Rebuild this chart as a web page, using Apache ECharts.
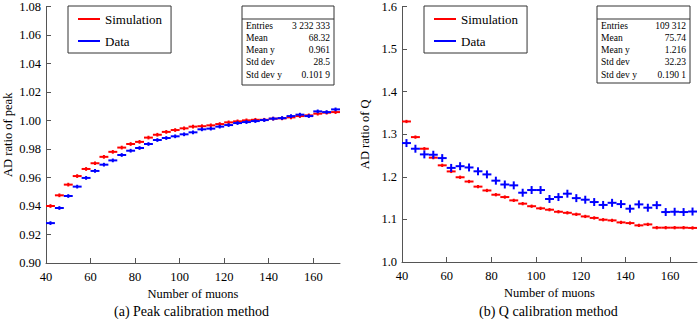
<!DOCTYPE html>
<html>
<head>
<meta charset="utf-8">
<script src="https://cdn.jsdelivr.net/npm/echarts@6/dist/echarts.min.js"></script>
<style>
  html, body { margin: 0; padding: 0; background: #fff; }
  #chart { width: 700px; height: 319px; }
</style>
</head>
<body>
<div id="chart"></div>
<script>
// bin centres (4 muon wide bins, 40..172)
var binCenters = [42, 46, 50, 54, 58, 62, 66, 70, 74, 78, 82, 86, 90, 94, 98, 102, 106,
                  110, 114, 118, 122, 126, 130, 134, 138, 142, 146, 150, 154, 158, 162, 166, 170];
var binWidth = 4;
var xTicks = [40, 60, 80, 100, 120, 140, 160];

// (a) peak calibration
var peakSim = [0.940, 0.9475, 0.955, 0.961, 0.966, 0.970, 0.9745, 0.978, 0.981, 0.9835, 0.985,
               0.988, 0.990, 0.992, 0.9933, 0.9945, 0.9957, 0.996, 0.9966, 0.9975, 0.9987, 0.9994,
               1.0001, 1.0005, 1.0005, 1.0013, 1.0015, 1.0022, 1.0031, 1.0036, 1.0048, 1.0055, 1.0059];
var peakData = [0.928, 0.9386, 0.947, 0.9536, 0.9597, 0.9646, 0.969, 0.972, 0.9758, 0.9788, 0.9807,
                0.9835, 0.9863, 0.9877, 0.9889, 0.9903, 0.9917, 0.9938, 0.9943, 0.9957, 0.9968, 0.9982,
                0.9989, 0.9996, 1.0003, 1.0013, 1.0017, 1.0031, 1.0041, 1.0031, 1.0064, 1.0059, 1.0078];

// (b) Q calibration
var qSim = [1.330, 1.2933, 1.266, 1.245, 1.227, 1.2127, 1.199, 1.189, 1.177, 1.168, 1.158,
            1.1525, 1.1447, 1.137, 1.131, 1.126, 1.1228, 1.118, 1.1155, 1.112, 1.107, 1.1035,
            1.0993, 1.0977, 1.093, 1.0914, 1.086, 1.0883, 1.0806, 1.0806, 1.0806, 1.0806, 1.080];
var qData = [1.2793, 1.266, 1.2527, 1.2519, 1.244, 1.221, 1.225, 1.222, 1.213, 1.2057, 1.191,
             1.182, 1.180, 1.1627, 1.169, 1.169, 1.148, 1.1525, 1.1604, 1.150, 1.1463, 1.1408,
             1.134, 1.139, 1.136, 1.1252, 1.1353, 1.1275, 1.1335, 1.1173, 1.118, 1.1173, 1.1185];

// y errors
var peakSimErr = 0.0006, peakDataErr = 0.0006;
var qSimErr = 0.0015, qDataErr = 0.007;

var statLabels = ['Entries', 'Mean', 'Mean y', 'Std dev', 'Std dev y'];
var peakStats = ['3 232 333', '68.32', '0.961', '28.5', '0.101 9'];
var qStats = ['109 312', '75.74', '1.216', '32.23', '0.190 1'];

var FONT = 'Liberation Serif';
var RED = '#ff0000', BLUE = '#0000ff';

function pts(vals, err) {
    return binCenters.map(function (x, i) { return [x, vals[i], err]; });
}

function renderErr(params, api) {
    var x = api.value(0), y = api.value(1), e = api.value(2);
    var a = api.coord([x - binWidth / 2, y]);
    var b = api.coord([x + binWidth / 2, y]);
    var c = api.coord([x, y - e]);
    var d = api.coord([x, y + e]);
    var color = api.visual('color');
    return {
        type: 'group',
        children: [
            { type: 'line', shape: { x1: a[0], y1: a[1], x2: b[0], y2: b[1] },
              style: { stroke: color, lineWidth: 2 } },
            { type: 'line', shape: { x1: c[0], y1: c[1] + 1, x2: d[0], y2: d[1] - 1 },
              style: { stroke: color, lineWidth: 2 } }
        ]
    };
}

function xAxisCfg(grid) {
    return {
        gridIndex: grid,
        type: 'value',
        min: 40,
        max: 172,
        name: 'Number of muons',
        nameLocation: 'middle',
        nameGap: 23,
        nameTextStyle: { fontFamily: FONT, fontSize: 12.5, color: '#000' },
        axisLine: { lineStyle: { color: '#555', width: 1 } },
        axisTick: { inside: true, length: 5, customValues: xTicks, lineStyle: { color: '#555' } },
        axisLabel: { customValues: xTicks, fontFamily: FONT, fontSize: 12.5, color: '#000', margin: 7 },
        splitLine: { show: false }
    };
}

function yAxisCfg(grid, name, min, max, interval, digits, gap) {
    return {
        gridIndex: grid,
        type: 'value',
        min: min,
        max: max,
        interval: interval,
        name: name,
        nameLocation: 'middle',
        nameGap: gap,
        nameTextStyle: { fontFamily: FONT, fontSize: 12.5, color: '#000' },
        axisLine: { show: true, lineStyle: { color: '#555', width: 1 } },
        axisTick: { show: true, inside: true, length: 5, lineStyle: { color: '#555' } },
        axisLabel: {
            fontFamily: FONT, fontSize: 12.5, color: '#000', margin: 5,
            formatter: function (v) { return v.toFixed(digits); }
        },
        splitLine: { show: false }
    };
}

function statsBox(x, y, w, h, values) {
    var kids = [
        { type: 'rect', shape: { x: x, y: y, width: w, height: h },
          style: { fill: '#fff', stroke: '#333', lineWidth: 1 } },
        { type: 'line', shape: { x1: x, y1: y + 13, x2: x + w, y2: y + 13 },
          style: { stroke: '#333', lineWidth: 1 } }
    ];
    statLabels.forEach(function (lab, i) {
        var ty = y + 19.5 + i * 12.3;
        kids.push({ type: 'text', x: x + 4, y: ty,
            style: { text: lab, fontFamily: FONT, fontSize: 9.5, fill: '#000', verticalAlign: 'middle', align: 'left' } });
        kids.push({ type: 'text', x: x + w - 4, y: ty,
            style: { text: values[i], fontFamily: FONT, fontSize: 9.5, fill: '#000', verticalAlign: 'middle', align: 'right' } });
    });
    return { type: 'group', children: kids };
}

function legendCfg(left) {
    return {
        orient: 'vertical',
        left: left,
        top: 6,
        padding: [6, 9, 5, 10],
        itemGap: 8,
        itemWidth: 22,
        itemHeight: 2,
        icon: 'rect',
        borderColor: '#333',
        borderWidth: 1,
        borderRadius: 0,
        backgroundColor: '#fff',
        textStyle: { fontFamily: FONT, fontSize: 13, color: '#000', lineHeight: 14 },
        data: ['Simulation', 'Data']
    };
}

var chart = echarts.init(document.getElementById('chart'), null, { renderer: 'svg' });
var option = {
    animation: false,
    backgroundColor: '#fff',
    textStyle: { fontFamily: FONT },
    title: [
        { text: '(a) Peak calibration method', left: 114, top: 304, padding: 0,
          textStyle: { fontFamily: FONT, fontSize: 14, fontWeight: 'normal', color: '#000' } },
        { text: '(b) Q calibration method', left: 479, top: 304, padding: 0,
          textStyle: { fontFamily: FONT, fontSize: 14, fontWeight: 'normal', color: '#000' } }
    ],
    grid: [
        { left: 46, top: 6, width: 294, height: 257 },
        { left: 402, top: 6, width: 295, height: 256 }
    ],
    xAxis: [xAxisCfg(0), xAxisCfg(1)],
    yAxis: [
        yAxisCfg(0, 'AD ratio of peak', 0.90, 1.08, 0.02, 2, 32),
        yAxisCfg(1, 'AD ratio of Q', 1.0, 1.6, 0.1, 1, 31)
    ],
    legend: [legendCfg(68), legendCfg(424)],
    series: [
        { name: 'Simulation', type: 'custom', xAxisIndex: 0, yAxisIndex: 0, itemStyle: { color: RED },
          renderItem: renderErr, data: pts(peakSim, peakSimErr) },
        { name: 'Data', type: 'custom', xAxisIndex: 0, yAxisIndex: 0, itemStyle: { color: BLUE },
          renderItem: renderErr, data: pts(peakData, peakDataErr) },
        { name: 'Simulation', type: 'custom', xAxisIndex: 1, yAxisIndex: 1, itemStyle: { color: RED },
          renderItem: renderErr, data: pts(qSim, qSimErr) },
        { name: 'Data', type: 'custom', xAxisIndex: 1, yAxisIndex: 1, itemStyle: { color: BLUE },
          renderItem: renderErr, data: pts(qData, qDataErr) }
    ],
    graphic: [
        statsBox(242, 6, 92, 79, peakStats),
        statsBox(597, 6, 93, 77, qStats)
    ]
};
chart.setOption(option);
</script>
</body>
</html>
